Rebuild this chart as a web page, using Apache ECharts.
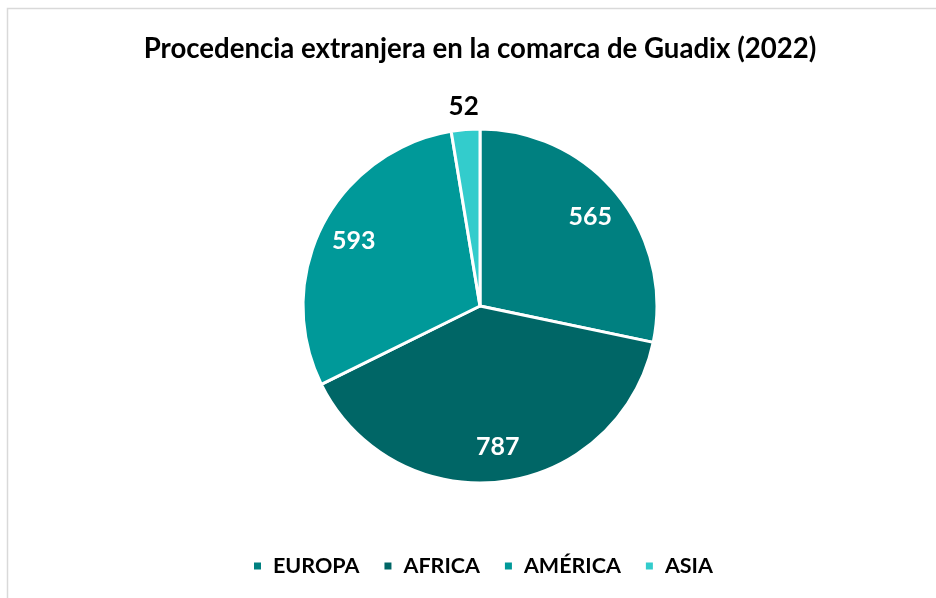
<!DOCTYPE html>
<html>
<head>
<meta charset="utf-8">
<script src="https://cdn.jsdelivr.net/npm/echarts@6/dist/echarts.min.js"></script>
<style>
html,body{margin:0;padding:0;background:#fff;}
#chart{width:936px;height:598px;}
</style>
</head>
<body>
<div id="chart"></div>
<script>
const categories = ['EUROPA', 'AFRICA', 'AMÉRICA', 'ASIA'];
const values = [565, 787, 593, 52];
const colors = ['#008080', '#006666', '#009999', '#33CCCC'];
const titleText = 'Procedencia extranjera en la comarca de Guadix (2022)';

const FONT = 'Lato, "Open Sans", sans-serif';
const center = [480, 306];
const R = 177;

const mainData = categories.map((c, i) => ({ name: c, value: values[i], itemStyle: { color: colors[i] } }));
const innerLabelData = categories.map((c, i) => ({
  name: c, value: values[i],
  label: { show: c !== 'ASIA' }
}));
const outerLabelData = categories.map((c, i) => ({
  name: c, value: values[i],
  label: { show: c === 'ASIA' }
}));

const chart = echarts.init(document.getElementById('chart'));
chart.setOption({
  backgroundColor: '#ffffff',
  animation: false,
  title: {
    text: titleText,
    left: 475,
    textAlign: 'center',
    top: 30,
    textStyle: { fontFamily: FONT, fontWeight: 'bold', fontSize: 27.6, color: '#000' }
  },
  legend: {
    bottom: 21,
    left: 252,
    padding: 0,
    itemWidth: 9,
    itemHeight: 9,
    itemGap: 23,
    icon: 'rect',
    data: categories.map((c, i) => ({ name: c, itemStyle: { color: colors[i] } })),
    textStyle: { fontFamily: FONT, fontWeight: 'bold', fontSize: 21.5, color: '#000', padding: [0, 0, 0, 6] }
  },
  graphic: [{
    type: 'rect',
    shape: { x: 7.5, y: 8.5, width: 1000, height: 1000 },
    style: { fill: 'none', stroke: '#d9d9d9', lineWidth: 1.5 },
    silent: true
  }],
  series: [
    {
      type: 'pie',
      center: center,
      radius: [0, R],
      startAngle: 90,
      clockwise: true,
      label: { show: false },
      labelLine: { show: false },
      itemStyle: { borderColor: '#fff', borderWidth: 3 },
      emphasis: { disabled: true },
      data: mainData
    },
    {
      type: 'pie',
      center: center,
      radius: [101, R],
      startAngle: 90,
      clockwise: true,
      silent: true,
      itemStyle: { color: 'rgba(0,0,0,0)' },
      label: {
        position: 'inside',
        formatter: '{c}',
        color: '#fff',
        fontFamily: FONT,
        fontWeight: 'bold',
        fontSize: 25,
        padding: [14, 0, 0, 0]
      },
      labelLine: { show: false },
      emphasis: { disabled: true },
      data: innerLabelData
    },
    {
      type: 'pie',
      center: center,
      radius: [187, 207],
      startAngle: 90,
      clockwise: true,
      silent: true,
      itemStyle: { color: 'rgba(0,0,0,0)' },
      label: {
        position: 'inside',
        formatter: '{c}',
        color: '#000',
        fontFamily: FONT,
        fontWeight: 'bold',
        fontSize: 26,
        padding: [8, 0, 0, 0]
      },
      labelLine: { show: false },
      emphasis: { disabled: true },
      data: outerLabelData
    }
  ]
});
</script>
</body>
</html>
